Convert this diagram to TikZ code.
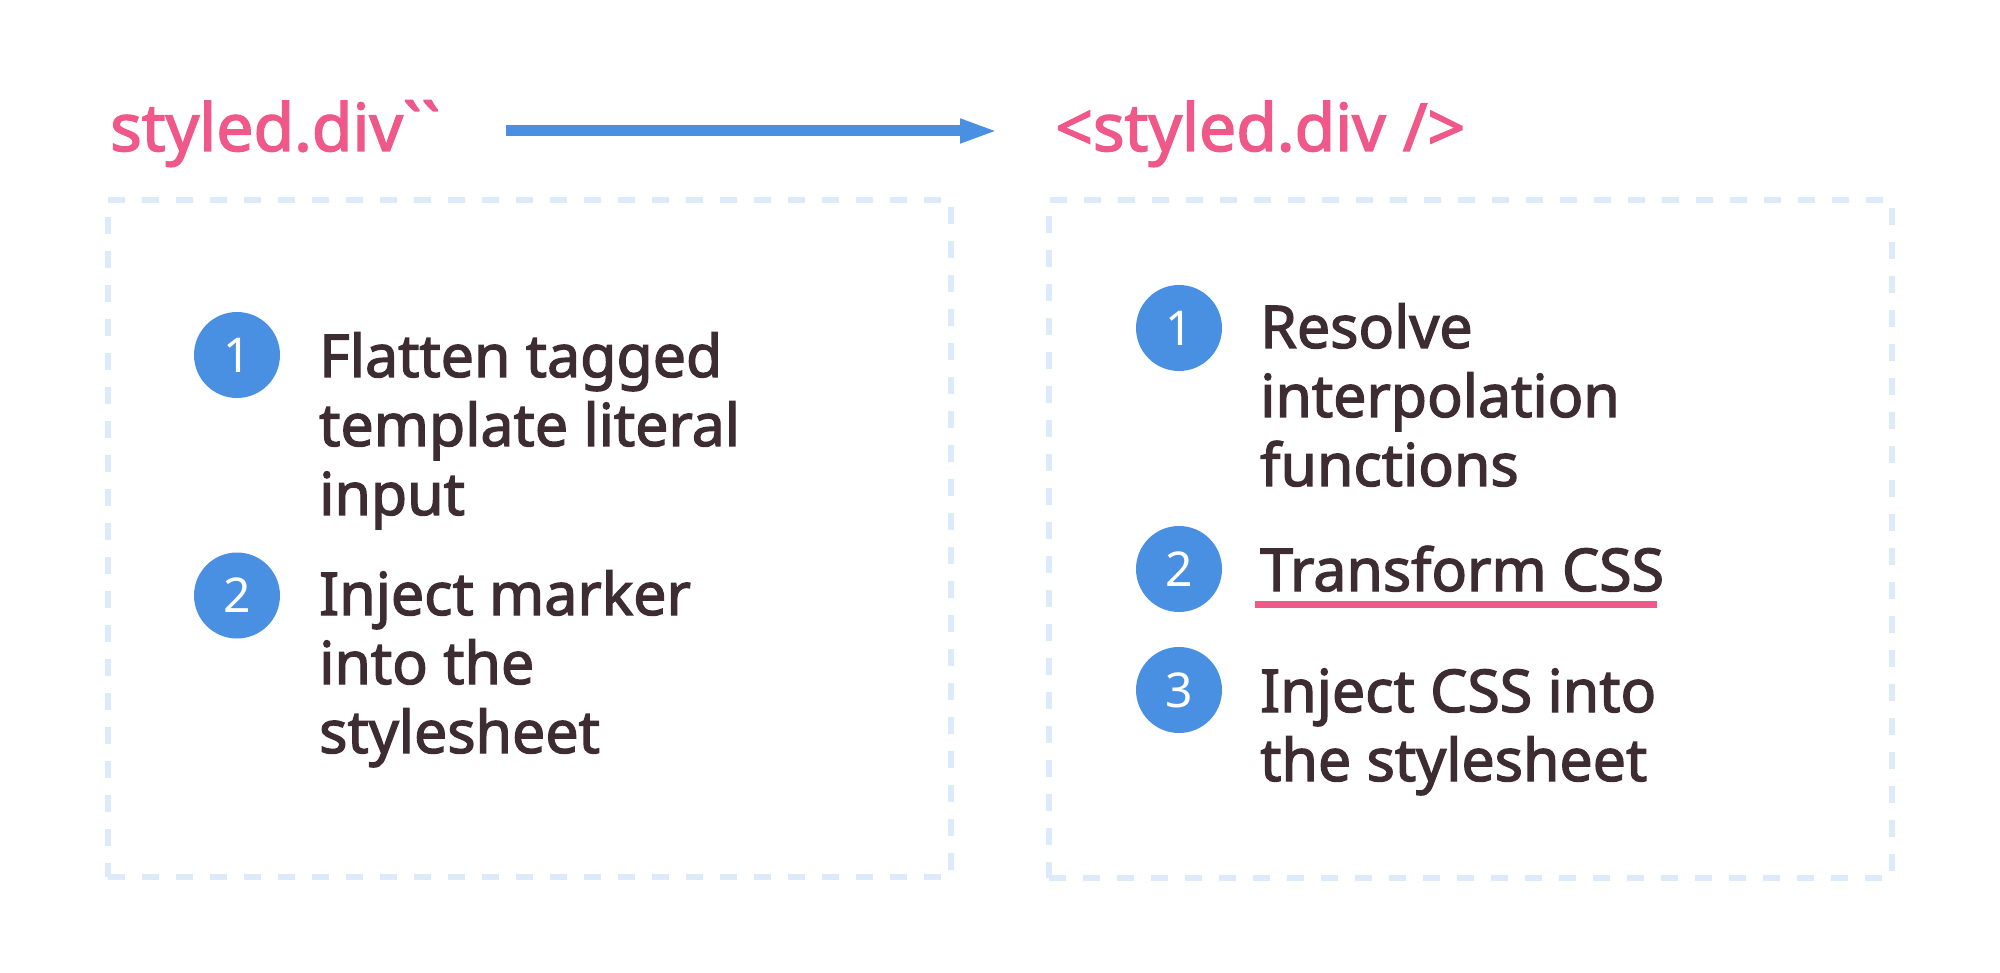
\documentclass[tikz,border=0pt]{standalone}
\usepackage{fontspec}
\setmainfont{Noto Sans}
\newfontfamily\medfont[FakeBold=2.2]{Noto Sans}
\usetikzlibrary{arrows.meta}
\definecolor{pinkc}{HTML}{EF5888}
\definecolor{bluec}{HTML}{4A90E2}
\definecolor{textc}{HTML}{3D2D33}
\definecolor{dashc}{HTML}{DCEAF9}
\tikzset{
  titletext/.style={anchor=base west, inner sep=0pt, text=pinkc, font=\medfont\fontsize{66}{70}\selectfont},
  bodytext/.style={anchor=base west, inner sep=0pt, text=textc, font=\medfont\fontsize{59}{69}\selectfont},
  numdot/.style={circle, fill=bluec, minimum size=86pt, inner sep=0pt, text=white, font=\fontsize{48}{48}\selectfont},
  dashbox/.style={draw=dashc, line width=5.5pt, dash pattern=on 17pt off 17pt, outer sep=0pt, inner sep=0pt, anchor=north west},
  flowarrow/.style={draw=bluec, line width=11pt, -{Triangle[length=38pt,width=22pt]}},
  underl/.style={draw=pinkc, line width=7pt}
}
\begin{document}
\begin{tikzpicture}[x=1pt,y=-1pt]
\useasboundingbox[fill=white] (0,0) rectangle (2000,973);
% titles
\node[titletext] (tl) at (110,151) {styled.div\char96\char96};
\node[titletext] (tr) at (1055,151) {<styled.div />};
\coordinate (as) at (506,131);
\coordinate (ae) at (998,131);
\draw[flowarrow] (as) -- (ae);
% boxes
\node[dashbox, minimum width=843pt, minimum height=677pt] (boxl) at (108,200) {};
\node[dashbox, minimum width=843pt, minimum height=678pt] (boxr) at (1049,200) {};
% left steps
\node[numdot] (l1) at (237,355) {1};
\node[bodytext] (lt1) at (319,377) {\begin{tabular}[t]{@{}l@{}}Flatten tagged\\template literal\\input\end{tabular}};
\node[numdot] (l2) at (237,595.5) {2};
\node[bodytext] (lt2) at (319,615) {\begin{tabular}[t]{@{}l@{}}Inject marker\\into the\\stylesheet\end{tabular}};
% right steps
\node[numdot] (r1) at (1179,328) {1};
\node[bodytext] (rt1) at (1260,348) {\begin{tabular}[t]{@{}l@{}}Resolve\\interpolation\\functions\end{tabular}};
\node[numdot] (r2) at (1179,569) {2};
\node[bodytext] (rt2) at (1260,591) {Transform CSS};
\node[numdot] (r3) at (1179,690) {3};
\node[bodytext] (rt3) at (1260,712) {\begin{tabular}[t]{@{}l@{}}Inject CSS into\\the stylesheet\end{tabular}};
\coordinate (us) at (1255,604.7);
\coordinate (ue) at (1657,604.7);
\draw[underl] (us) -- (ue);
\end{tikzpicture}
\end{document}
